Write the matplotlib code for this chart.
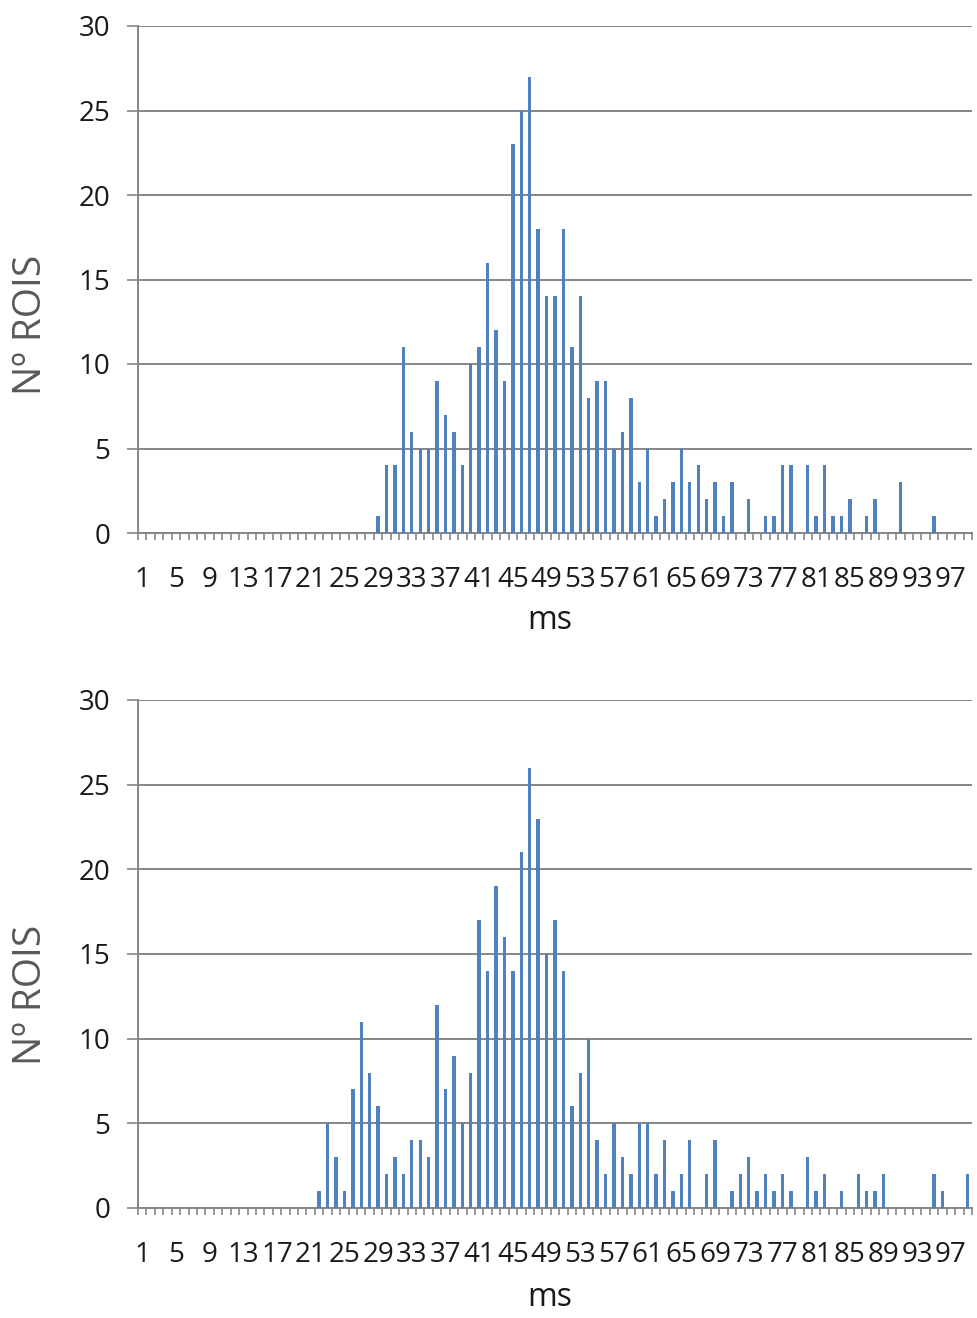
import matplotlib.pyplot as plt
import numpy as np

plt.rcParams['font.family'] = ['Open Sans', 'DejaVu Sans']

# categorias (ms) 1..99, etiqueta cada 4
ms = list(range(1, 100))
tick_pos = ms[::4]
tick_labels = [str(m) for m in tick_pos]

# nº de ROIs por bin, gráfico superior
top_counts = [0] * 28 + [
    1, 4, 4, 11, 6, 5, 5, 9, 7, 6,          # 29-38
    4, 10, 11, 16, 12, 9, 23, 25, 27, 18,   # 39-48
    14, 14, 18, 11, 14, 8, 9, 9, 5, 6,      # 49-58
    8, 3, 5, 1, 2, 3, 5, 3, 4, 2,           # 59-68
    3, 1, 3, 0, 2, 0, 1, 1, 4, 4,           # 69-78
    0, 4, 1, 4, 1, 1, 2, 0, 1, 2,           # 79-88
    0, 0, 3, 0, 0, 0, 1, 0, 0, 0, 0,        # 89-99
]

# nº de ROIs por bin, gráfico inferior
bottom_counts = [0] * 21 + [
    1, 5, 3, 1, 7, 11, 8, 6, 2,             # 22-30
    3, 2, 4, 4, 3, 12, 7, 9, 5, 8,          # 31-40
    17, 14, 19, 16, 14, 21, 26, 23, 15, 17, # 41-50
    14, 6, 8, 10, 4, 2, 5, 3, 2, 5,         # 51-60
    5, 2, 4, 1, 2, 4, 0, 2, 4, 0,           # 61-70
    1, 2, 3, 1, 2, 1, 2, 1, 0, 3,           # 71-80
    1, 2, 0, 1, 0, 2, 1, 1, 2, 0,           # 81-90
    0, 0, 0, 0, 2, 1, 0, 0, 2,              # 91-99
]

y_ticks = [0, 5, 10, 15, 20, 25, 30]

bar_color = '#4F81BD'
grid_color = '#868686'

W, H = 977, 1318
fig = plt.figure(figsize=(W / 100, H / 100), dpi=100)


def draw_panel(rect, counts, ylabel_y, xlabel_y):
    ax = fig.add_axes(rect)
    ax.bar(ms, counts, width=0.4, color=bar_color, zorder=3)
    ax.set_xlim(0.5, len(ms) + 0.5)
    ax.set_ylim(0, 30)

    # eje y + rejilla
    ax.set_yticks(y_ticks)
    ax.yaxis.grid(True, color=grid_color, linewidth=1.4, zorder=0)
    ax.tick_params(axis='y', length=8, width=1.2, color=grid_color,
                   pad=12, labelsize=20, labelcolor='#1a1a1a')

    # eje x: marcas entre categorias, etiquetas cada 4
    ax.set_xticks(tick_pos)
    ax.set_xticklabels(tick_labels)
    ax.set_xticks(np.arange(0.5, len(ms) + 1, 1), minor=True)
    ax.tick_params(axis='x', which='major', length=0, pad=24,
                   labelsize=20, labelcolor='#1a1a1a')
    ax.tick_params(axis='x', which='minor', length=5, width=1.2, color=grid_color)

    for s in ['top', 'right']:
        ax.spines[s].set_visible(False)
    for s in ['left', 'bottom']:
        ax.spines[s].set_color(grid_color)
        ax.spines[s].set_linewidth(1.4)

    ax.set_ylabel('Nº ROIS', fontsize=28, color='#595959')
    ax.yaxis.set_label_coords(-0.128, ylabel_y)
    ax.yaxis.label.set_va('center')
    ax.set_xlabel('ms', fontsize=23, color='#1a1a1a')
    ax.xaxis.set_label_coords(0.494, xlabel_y)
    ax.xaxis.label.set_va('center')
    return ax


# posiciones en pixeles del area de trazado
left, right = 138, 972
draw_panel([left / W, 1 - 533 / H, (right - left) / W, 507 / H],
           top_counts, 0.41, -0.172)
draw_panel([left / W, 1 - 1208 / H, (right - left) / W, 508 / H],
           bottom_counts, 0.42, -0.177)

plt.savefig('out.png', dpi=100)
